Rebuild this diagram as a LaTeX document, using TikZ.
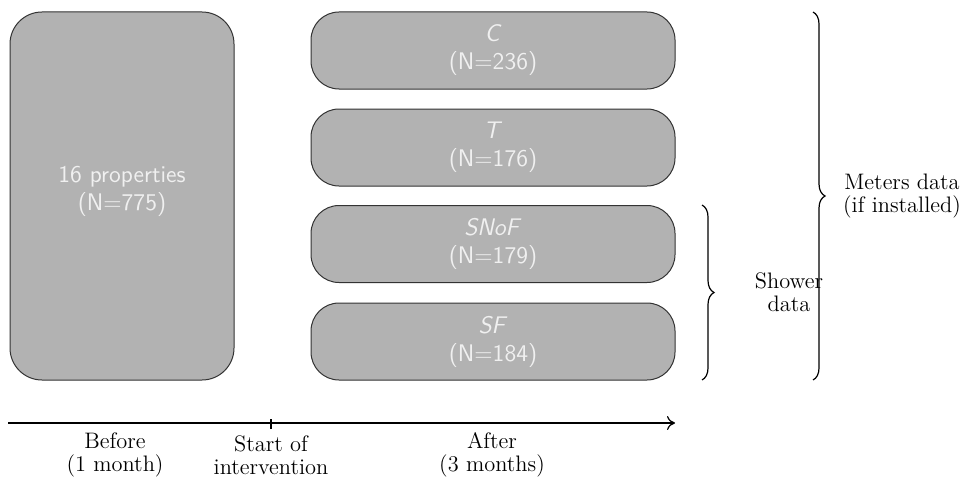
\documentclass[tikz,border=0pt]{standalone}
\usetikzlibrary{decorations.pathreplacing,arrows.meta}
\begin{document}
\begin{tikzpicture}[x=0.5pt,y=-0.5pt,
  box/.style={draw=black!80,line width=0.5pt,fill=black!30,rounded corners=14pt,
    text=white!94!black,align=center,inner sep=0pt,
    font=\fontsize{12}{14}\selectfont\sffamily},
  bigbox/.style={box,minimum width=112pt,minimum height=184pt,rounded corners=16pt},
  grpbox/.style={box,minimum width=182pt,minimum height=38.5pt},
  lbl/.style={align=center,inner sep=0pt,font=\fontsize{11.2}{11.5}\selectfont},
  brc/.style={decorate,decoration={brace,amplitude=6pt},line width=0.6pt}]
\useasboundingbox (0,0) rectangle (961,481);
\node[bigbox] (all) at (122,196) {16 properties\\(N=775)\\[-6pt]};
\node[grpbox] (c) at (493,50.5) {\textsl{C}\\(N=236)};
\node[grpbox] (t) at (493,147.5) {\textsl{T}\\(N=176)};
\node[grpbox] (snof) at (493,244) {\textsl{SNoF}\\(N=179)};
\node[grpbox] (sf) at (493,341.5) {\textsl{SF}\\(N=184)};
\coordinate (mt) at (813,12);
\coordinate (mb) at (813,380);
\coordinate (st) at (702,205);
\coordinate (sb) at (702,380);
\draw[brc] (mt) -- (mb);
\draw[brc] (st) -- (sb);
\node[lbl] (meters) at (902,196) {Meters data\\(if installed)};
\node[lbl] (shower) at (789,292) {Shower\\data};
\coordinate (a0) at (8,423);
\coordinate (a1) at (675,423);
\coordinate (tk) at (271,423);
\draw[-{To[length=4pt,width=7pt]},line width=0.6pt] (a0) -- (a1);
\draw[line width=0.6pt] ([yshift=-3pt]tk) -- ([yshift=2pt]tk);
\node[lbl] (before) at (115,455) {Before\\(1 month)};
\node[lbl] (start) at (271,455) {Start of\\intervention};
\node[lbl] (after) at (492,455) {After\\(3 months)};
\end{tikzpicture}
\end{document}
